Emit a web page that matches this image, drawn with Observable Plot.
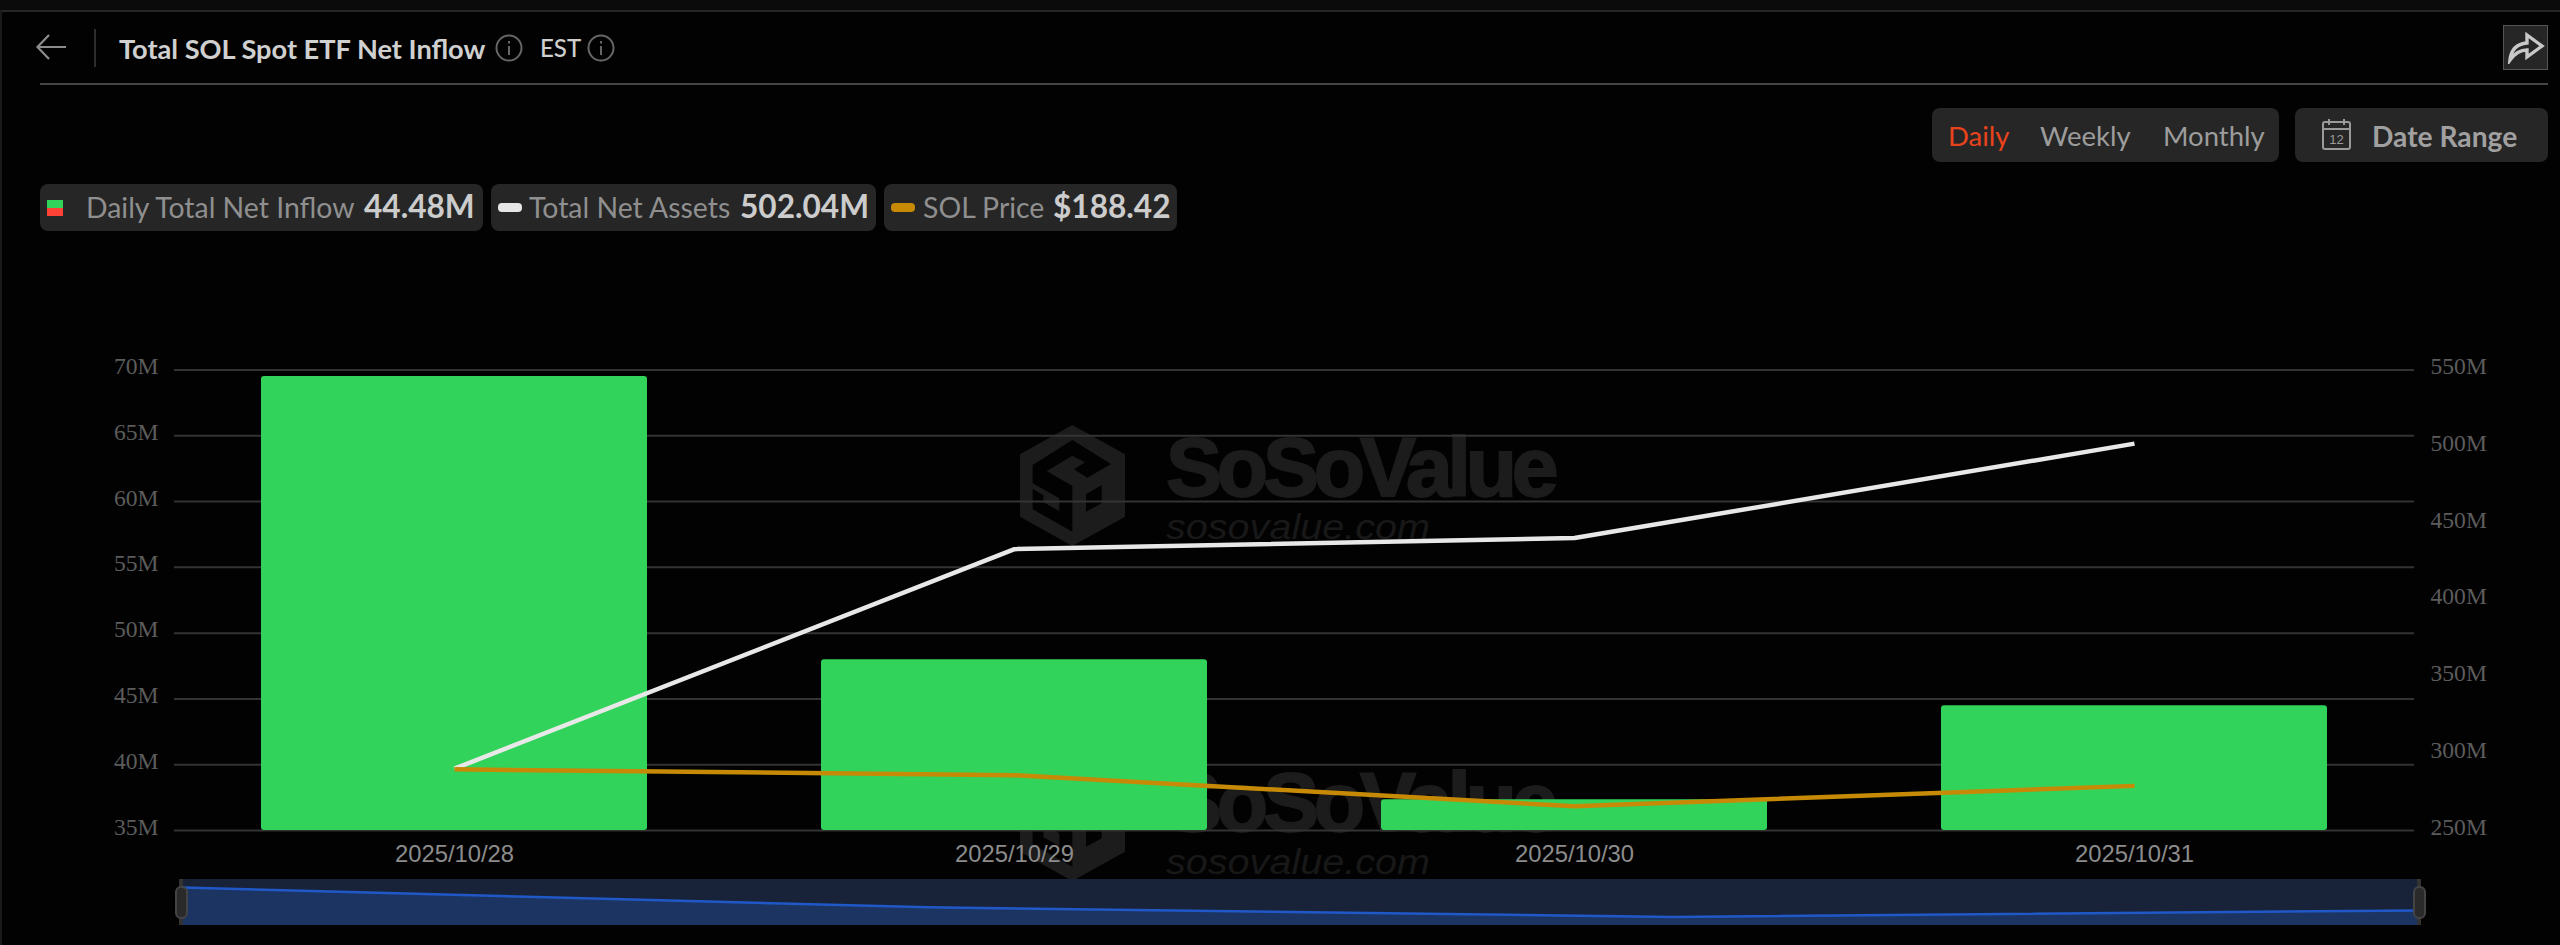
<!DOCTYPE html>
<html><head><meta charset="utf-8">
<script src="https://cdn.jsdelivr.net/npm/d3@7"></script>
<script src="https://cdn.jsdelivr.net/npm/@observablehq/plot@0.6"></script>
<style>
html,body{margin:0;padding:0;background:#020202;width:2560px;height:945px;overflow:hidden;font-family:Lato,sans-serif}
#page{position:relative;width:2560px;height:945px;overflow:hidden}
.a{position:absolute;white-space:nowrap;line-height:1}
.box{position:absolute;background:#262626;border-radius:8px}
#chart,#slider{position:absolute;left:0}
#chart{top:300px}#slider{top:879px}
#chart svg,#slider svg{display:block;background:transparent}
.wm{position:absolute;left:1020px;width:560px;height:125px;color:#1c1c1c}
.wm b{position:absolute;left:146px;top:9px;font:bold 84px "Liberation Sans";letter-spacing:-5.2px;line-height:.8;-webkit-text-stroke:2px #1c1c1c}
.wm i{position:absolute;left:146px;top:88px;font:italic 39.6px "Liberation Sans";line-height:.8;transform:scaleY(.9);transform-origin:0 0;color:#181818}
.handle{position:absolute;top:886px;width:13px;height:33px;background:#2a2a2a;border:2.5px solid #444;box-sizing:border-box;border-radius:6px}
.hline{position:absolute;top:879px;width:4px;height:46px;background:#333}
</style></head><body><div id="page">
<div class="a" style="left:0;top:0;width:2560px;height:10px;background:#0b0b0b"></div>
<div class="a" style="left:0;top:10px;width:2560px;height:2px;background:#272727"></div>
<div class="a" style="left:0;top:10px;width:2px;height:935px;background:#1a1a1a"></div>

<svg class="a" style="left:34px;top:32px" width="36" height="30" fill="none" stroke="#8c8c8c" stroke-width="2.2"><path d="M32 15H4M15 3 3.5 15 15 27"/></svg>
<div class="a" style="left:94px;top:29px;width:2px;height:38px;background:#2c2c2c"></div>
<div class="a" id="title" style="left:119px;top:35px;font-size:27.2px;font-weight:700;color:#d0d0d0">Total SOL Spot ETF Net Inflow</div>
<svg class="a" style="left:495px;top:34px" width="28" height="28" fill="none" stroke="#666" stroke-width="2"><circle cx="14" cy="14" r="12.5"/><path d="M14 12v9M14 7v2.5"/></svg>
<div class="a" style="left:540px;top:36px;font-size:24px;font-weight:500;color:#cfcfcf">EST</div>
<svg class="a" style="left:587px;top:34px" width="28" height="28" fill="none" stroke="#666" stroke-width="2"><circle cx="14" cy="14" r="12.5"/><path d="M14 12v9M14 7v2.5"/></svg>
<div class="a" style="left:40px;top:83px;width:2508px;height:2px;background:#454545"></div>

<div class="a" style="left:2503px;top:25px;width:45px;height:45px;background:#262626;border:1.5px solid #555;box-sizing:border-box"></div>
<svg class="a" style="left:2506px;top:30px" width="40" height="34" fill="none" stroke="#c8c8c8" stroke-width="3.4"><path d="M4 30C5 20 10 14 21 13V5L36 16 21 27V20C14 20 9 23 4 30Z"/></svg>

<div class="box" style="left:1932px;top:108px;width:347px;height:54px"></div>
<div class="a" style="left:1948px;top:122px;font-size:27.5px;color:#e8431c">Daily</div>
<div class="a" style="left:2040px;top:122px;font-size:27.5px;color:#9c9c9c">Weekly</div>
<div class="a" style="left:2163px;top:122px;font-size:27.5px;color:#9c9c9c">Monthly</div>
<div class="box" style="left:2295px;top:108px;width:253px;height:54px"></div>
<svg class="a" style="left:2321px;top:117px" width="32" height="34" fill="none" stroke="#9a9a9a" stroke-width="2"><rect x="2" y="5" width="27" height="27" rx="2"/><path d="M2 12H29M8 2v6M23 2v6"/><text x="15.5" y="27" font-size="13" text-anchor="middle" fill="#9a9a9a" stroke="none" font-family="Liberation Sans">12</text></svg>
<div class="a" style="left:2372px;top:122px;font-size:28.2px;font-weight:700;color:#a0a0a0">Date Range</div>

<div class="box" style="left:40px;top:184px;width:443px;height:47px"></div>
<div class="a" style="left:47px;top:200px;width:16px;height:8px;background:#32d35a"></div>
<div class="a" style="left:47px;top:208px;width:16px;height:8px;background:#ff4136"></div>
<div class="a" style="left:86px;top:193px;font-size:28.4px;color:#8f8f8f">Daily Total Net Inflow</div>
<div class="a" style="left:364px;top:191px;font-size:31.6px;font-weight:700;color:#cccccc">44.48M</div>
<div class="box" style="left:491px;top:184px;width:385px;height:47px"></div>
<div class="a" style="left:498px;top:203px;width:24px;height:9px;border-radius:4px;background:#e6e6e6"></div>
<div class="a" style="left:529px;top:193px;font-size:28.4px;color:#8f8f8f">Total Net Assets</div>
<div class="a" style="left:740px;top:191px;font-size:31.6px;font-weight:700;color:#cccccc">502.04M</div>
<div class="box" style="left:884px;top:184px;width:293px;height:47px"></div>
<div class="a" style="left:891px;top:203px;width:24px;height:9px;border-radius:4px;background:#c78a06"></div>
<div class="a" style="left:923px;top:193px;font-size:28.4px;color:#8f8f8f">SOL Price</div>
<div class="a" style="left:1053px;top:191px;font-size:31.6px;font-weight:700;color:#cccccc">$188.42</div>

<div class="wm" style="top:425px" id="wm1"></div>
<div class="wm" style="top:760px" id="wm2"></div>

<div id="chart"></div>
<div id="slider"></div>
<div class="hline" style="left:179px"></div><div class="handle" style="left:174.5px"></div>
<div class="hline" style="left:2417px"></div><div class="handle" style="left:2412.5px"></div>
</div>
<script>
const dates = ["2025/10/28","2025/10/29","2025/10/30","2025/10/31"];
const inflow = [69.5, 47.97, 37.33, 44.48];
const assets = [290.3, 433.3, 440.5, 502.04];
const price = [199.8, 195.8, 174.4, 188.42];
const leftTicks = [35,40,45,50,55,60,65,70];
const rightTicks = [250,300,350,400,450,500,550];
const leftDomain = [35,70];
const rightDomain = [250,550];
const priceDomain = [157.7,474.7];

const assetsToLeft = d3.scaleLinear(rightDomain, leftDomain);
const priceToLeft = d3.scaleLinear(priceDomain, leftDomain);
const rows = dates.map((date,i)=>({date,inflow:inflow[i],assets:assets[i],price:price[i]}));

const logo = `<svg style="position:absolute;left:-10px;top:-10px" width="130" height="140" viewBox="0 0 390 420"><path fill="#1c1c1c" d="M187 30 345 118V305L187 393 30 305V118Z"/><path fill="#020202" d="M187 75 303 147 232 188 192 163 225 142 187 122 110 168 187 213V350L68 283V222L100 240V262L148 288V250L68 205V150Z"/><path fill="#020202" d="M275 210V265L228 290V238Z"/></svg>`;
for (const id of ["wm1","wm2"]) document.getElementById(id).innerHTML = logo + "<b>SoSoValue</b><i>sosovalue.com</i>";

const chart = Plot.plot({
  width:2560, height:600,
  marginTop:69.5, marginBottom:70, marginLeft:174, marginRight:146,
  style:{background:"transparent"},
  x:{type:"band", domain:dates, paddingInner:0.311, paddingOuter:0.1555, align:0.5, axis:null},
  y:{domain:leftDomain, axis:null},
  marks:[
    Plot.ruleY(leftTicks,{stroke:"#333333",strokeWidth:2,strokeOpacity:1}),
    Plot.barY(rows,{x:"date",y1:()=>35,y2:"inflow",fill:"#32d35a",rx:3}),
    Plot.lineY(rows,{x:"date",y:d=>assetsToLeft(d.assets),stroke:"#e8e8e8",strokeWidth:4.5,strokeLinejoin:"miter",strokeLinecap:"butt"}),
    Plot.lineY(rows,{x:"date",y:d=>priceToLeft(d.price),stroke:"#c78a06",strokeWidth:4.5,strokeLinejoin:"miter",strokeLinecap:"butt"}),
    Plot.axisY({anchor:"left",ticks:leftTicks,tickSize:0,tickPadding:16,tickFormat:d=>d+"M",fontSize:23.6,fontFamily:"Liberation Serif",fill:"#5c5c5c",dy:-3.5,label:null}),
    Plot.axisY(rightTicks.map(d=>assetsToLeft(d)),{anchor:"right",tickSize:0,tickPadding:16,tickFormat:d=>Math.round(assetsToLeft.invert(d))+"M",fontSize:23.6,fontFamily:"Liberation Serif",fill:"#5c5c5c",dy:-3.5,label:null}),
    Plot.axisX({anchor:"bottom",tickSize:0,tickPadding:15,fontSize:23.8,fontFamily:"Liberation Sans",fill:"#8c8c8c",label:null})
  ]
});
document.getElementById("chart").append(chart);

const slider = Plot.plot({
  width:2560, height:46, margin:0, marginLeft:181, marginRight:141.5,
  style:{background:"transparent"},
  x:{type:"point", domain:dates, padding:0, axis:null},
  y:{domain:[28,78.4], axis:null},
  marks:[
    Plot.areaY(rows,{x:"date",y1:()=>28,y2:()=>78.4,fill:"#18233a"}),
    Plot.areaY(rows,{x:"date",y1:()=>28,y2:"inflow",fill:"#1b3461"}),
    Plot.lineY(rows,{x:"date",y:"inflow",stroke:"#2058c8",strokeWidth:2.5})
  ]
});
document.getElementById("slider").append(slider);
</script></body></html>
